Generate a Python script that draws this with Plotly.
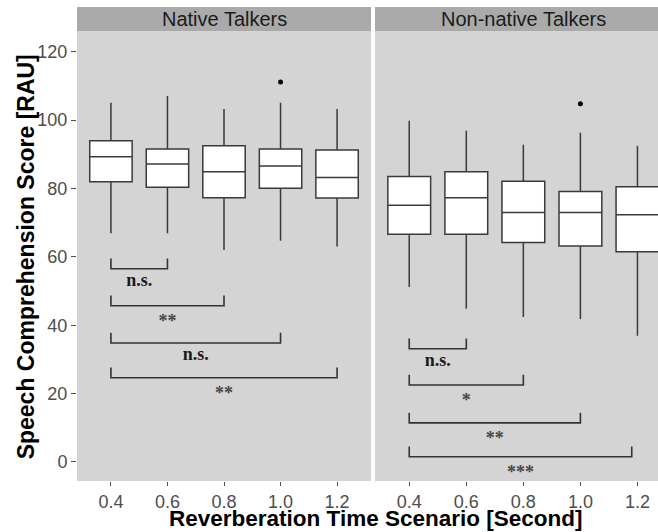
import plotly.graph_objects as go

# Reverberation time scenarios (seconds)
times = [0.4, 0.6, 0.8, 1.0, 1.2]
tick_labels = ["0.4", "0.6", "0.8", "1.0", "1.2"]
panels = ["Native Talkers", "Non-native Talkers"]

# Box statistics, native talkers
native_low = [66.9, 66.9, 62.0, 64.7, 63.0]
native_q1 = [82.0, 80.4, 77.3, 80.1, 77.2]
native_med = [89.3, 87.2, 84.9, 86.6, 83.2]
native_q3 = [94.0, 91.6, 92.5, 91.6, 91.3]
native_high = [105.1, 107.1, 103.3, 105.1, 103.3]
native_out_x = [1.0]
native_out_y = [111.2]

# Box statistics, non-native talkers
nonnative_low = [51.2, 44.8, 42.4, 41.8, 36.9]
nonnative_q1 = [66.6, 66.6, 64.2, 63.2, 61.5]
nonnative_med = [75.1, 77.3, 73.0, 73.0, 72.3]
nonnative_q3 = [83.5, 84.9, 82.1, 79.1, 80.5]
nonnative_high = [99.8, 96.9, 92.8, 96.3, 92.5]
nonnative_out_x = [1.0]
nonnative_out_y = [104.8]

# Pairwise comparison brackets against 0.4 s
native_br_from = [0.4, 0.4, 0.4, 0.4]
native_br_to = [0.6, 0.8, 1.0, 1.2]
native_br_y = [56.5, 45.7, 34.8, 24.6]
native_br_lab = ["n.s.", "**", "n.s.", "**"]

nonnative_br_from = [0.4, 0.4, 0.4, 0.4]
nonnative_br_to = [0.6, 0.8, 1.0, 1.18]
nonnative_br_y = [33.1, 22.5, 11.4, 1.5]
nonnative_br_lab = ["n.s.", "*", "**", "***"]

BR_TICK = 3.0
LAB_DROP = 3.6
STAR_EXTRA_DROP = 1.2  # asterisks sit high in the glyph box

W, H = 658, 532
ML, MR, MT, MB = 77, 0, 31, 51
PW = W - ML - MR
PH = H - MT - MB
d1 = (371 - ML) / PW
d2 = (375 - ML) / PW

PANEL_BG = "#D4D4D4"
STRIP_BG = "#AAAAAA"
BOX_LINE = "#3a3a3a"
TICK_COL = "#4d4d4d"
SANS = "Liberation Sans, Arial, sans-serif"
SERIF = "Liberation Serif, Times New Roman, serif"

fig = go.Figure()


def add_panel(xa, ya, low, q1, med, q3, high, ox, oy, bfrom, bto, by, blab):
    fig.add_trace(go.Box(
        x=times, q1=q1, median=med, q3=q3, lowerfence=low, upperfence=high,
        width=0.15, whiskerwidth=0, boxpoints=False,
        fillcolor="white", line=dict(color=BOX_LINE, width=1.5),
        xaxis=xa, yaxis=ya, showlegend=False, hoverinfo="skip",
    ))
    fig.add_trace(go.Scatter(
        x=ox, y=oy, mode="markers", marker=dict(color="black", size=5),
        xaxis=xa, yaxis=ya, showlegend=False, hoverinfo="skip",
    ))
    bx, byy = [], []
    for a, b, y in zip(bfrom, bto, by):
        bx += [a, a, b, b, None]
        byy += [y + BR_TICK, y, y, y + BR_TICK, None]
    fig.add_trace(go.Scatter(
        x=bx, y=byy, mode="lines", line=dict(color="#333333", width=1.6),
        xaxis=xa, yaxis=ya, showlegend=False, hoverinfo="skip",
    ))
    for a, b, y, lab in zip(bfrom, bto, by, blab):
        is_star = lab.startswith("*")
        fig.add_trace(go.Scatter(
            x=[(a + b) / 2], y=[y - LAB_DROP - (STAR_EXTRA_DROP if is_star else 0)],
            mode="text", text=[lab],
            textfont=dict(family=SERIF, size=18, color="#444444" if is_star else "#1a1a1a",
                          weight="bold"),
            xaxis=xa, yaxis=ya, showlegend=False, hoverinfo="skip",
        ))


add_panel("x", "y", native_low, native_q1, native_med, native_q3, native_high,
          native_out_x, native_out_y, native_br_from, native_br_to, native_br_y, native_br_lab)
add_panel("x2", "y2", nonnative_low, nonnative_q1, nonnative_med, nonnative_q3, nonnative_high,
          nonnative_out_x, nonnative_out_y, nonnative_br_from, nonnative_br_to, nonnative_br_y,
          nonnative_br_lab)

xcommon = dict(
    tickvals=times, ticktext=tick_labels, ticks="outside", ticklen=4,
    tickcolor=TICK_COL, tickwidth=1.2,
    tickfont=dict(family=SANS, size=18, color=TICK_COL),
    showgrid=False, zeroline=False, showline=False, fixedrange=True,
)
fig.update_layout(
    width=W, height=H,
    margin=dict(l=ML, r=MR, t=MT, b=MB, pad=0),
    paper_bgcolor="white", plot_bgcolor=PANEL_BG,
    xaxis=dict(domain=[0, d1], range=[0.28, 1.32], anchor="y", **xcommon),
    xaxis2=dict(domain=[d2, 1], range=[0.28, 1.272], anchor="y2", **xcommon),
    yaxis=dict(
        domain=[0, 1], range=[-5.6, 126.1], tickvals=[0, 20, 40, 60, 80, 100, 120],
        ticks="outside", ticklen=5, tickcolor=TICK_COL, tickwidth=1.2,
        tickfont=dict(family=SANS, size=18, color=TICK_COL),
        showgrid=False, zeroline=False, showline=False, anchor="x",
    ),
    yaxis2=dict(
        domain=[0, 1], matches="y", range=[-5.6, 126.1], showticklabels=False,
        ticks="", showgrid=False, zeroline=False, showline=False, anchor="x2",
    ),
    showlegend=False,
)

# Facet strips (the right facet continues past the page edge)
strip_top = 1 + (MT - 7) / PH
right_full_end = (671 - ML) / PW
for (x0, x1, xc_end), name in zip([(0, d1, d1), (d2, 1, right_full_end)], panels):
    fig.add_shape(type="rect", xref="paper", yref="paper", x0=x0, x1=x1,
                  y0=1, y1=strip_top, fillcolor=STRIP_BG, line=dict(width=0), layer="below")
    fig.add_annotation(xref="paper", yref="paper", x=(x0 + xc_end) / 2,
                       y=(1 + strip_top) / 2, text=name, showarrow=False,
                       font=dict(family=SANS, size=20, color="#1a1a1a"),
                       xanchor="center", yanchor="middle")

# Axis titles
fig.add_annotation(xref="paper", yref="paper", x=(375 - ML) / PW, y=-(518 - MT - PH) / PH,
                   text="<b>Reverberation Time Scenario [Second]</b>", showarrow=False,
                   font=dict(family=SANS, size=22.5, color="black"),
                   xanchor="center", yanchor="middle")
fig.add_annotation(xref="paper", yref="paper", x=(26 - ML) / PW, y=0.497,
                   text="<b>Speech Comprehension Score [RAU]</b>", showarrow=False, textangle=-90,
                   font=dict(family=SANS, size=23, color="black"),
                   xanchor="center", yanchor="middle")

fig.write_html("out.html")
